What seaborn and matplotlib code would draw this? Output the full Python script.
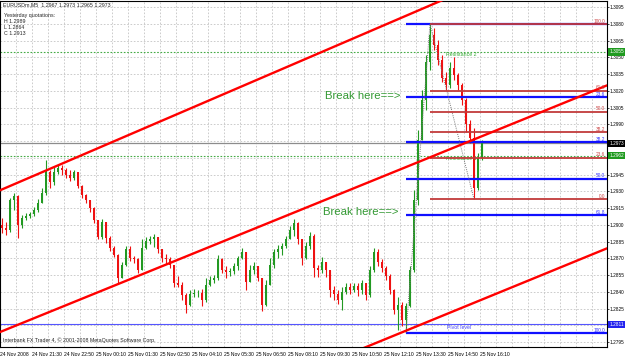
import matplotlib
matplotlib.use("Agg")
import matplotlib.pyplot as plt
import matplotlib.transforms as mtransforms
import numpy as np
import pandas as pd
import seaborn as sns

sns.set_style("white")
plt.rcParams['font.family'] = ['Liberation Sans', 'DejaVu Sans']

# ---------------- data ----------------
symbol_title = "EURUSDm,M5  1.2967 1.2973 1.2965 1.2973"
yesterday_lines = ["Yesterday quotations:", "H 1.2989", "L 1.2864", "C 1.2913"]
copyright_text = "Interbank FX Trader 4, \u00a9 2001-2008 MetaQuotes Software Corp."

open_p = [1.2900, 1.2897, 1.2895, 1.2922, 1.2926, 1.2900, 1.2906, 1.2908, 1.2910, 1.2913,
          1.2920, 1.2929, 1.2947, 1.2938, 1.2947, 1.2951, 1.2949, 1.2945, 1.2942, 1.2947,
          1.2935, 1.2927, 1.2922, 1.2915, 1.2904, 1.2889, 1.2903, 1.2888, 1.2879, 1.2873,
          1.2852, 1.2864, 1.2878, 1.2870, 1.2869, 1.2860, 1.2879, 1.2886, 1.2887, 1.2889,
          1.2878, 1.2870, 1.2869, 1.2864, 1.2848, 1.2846, 1.2837, 1.2828, 1.2838, 1.2839,
          1.2839, 1.2833, 1.2846, 1.2851, 1.2852, 1.2869, 1.2860, 1.2858, 1.2859, 1.2863,
          1.2870, 1.2876, 1.2849, 1.2860, 1.2863, 1.2852, 1.2828, 1.2846, 1.2864, 1.2876,
          1.2878, 1.2881, 1.2887, 1.2895, 1.2902, 1.2887, 1.2870, 1.2881, 1.2890, 1.2861,
          1.2860, 1.2867, 1.2860, 1.2842, 1.2838, 1.2833, 1.2840, 1.2844, 1.2842, 1.2845,
          1.2842, 1.2848, 1.2837, 1.2860, 1.2876, 1.2867, 1.2861, 1.2854, 1.2842, 1.2824,
          1.2828, 1.2815, 1.2827, 1.2860, 1.2922, 1.2976, 1.3012, 1.3046, 1.3070, 1.3061,
          1.3048, 1.3032, 1.3025, 1.3041, 1.3034, 1.3025, 1.3012, 1.2990, 1.2978, 1.2933,
          1.2960]
high_p = [1.2906, 1.2903, 1.2924, 1.2929, 1.2927, 1.2909, 1.2911, 1.2912, 1.2916, 1.2923,
          1.2933, 1.2958, 1.2949, 1.2952, 1.2955, 1.2954, 1.2951, 1.2949, 1.2949, 1.2947,
          1.2936, 1.2928, 1.2922, 1.2916, 1.2904, 1.2905, 1.2903, 1.2890, 1.2881, 1.2874,
          1.2867, 1.2881, 1.2881, 1.2872, 1.2870, 1.2887, 1.2889, 1.2890, 1.2892, 1.2889,
          1.2878, 1.2874, 1.2871, 1.2864, 1.2854, 1.2849, 1.2839, 1.2842, 1.2843, 1.2842,
          1.2843, 1.2852, 1.2854, 1.2855, 1.2873, 1.2870, 1.2863, 1.2861, 1.2866, 1.2872,
          1.2879, 1.2876, 1.2864, 1.2867, 1.2863, 1.2851, 1.2851, 1.2870, 1.2878, 1.2882,
          1.2884, 1.2890, 1.2899, 1.2905, 1.2903, 1.2887, 1.2885, 1.2894, 1.2892, 1.2864,
          1.2871, 1.2867, 1.2860, 1.2845, 1.2842, 1.2844, 1.2848, 1.2848, 1.2848, 1.2848,
          1.2851, 1.2848, 1.2863, 1.2879, 1.2878, 1.2869, 1.2863, 1.2856, 1.2843, 1.2835,
          1.2831, 1.2830, 1.2863, 1.2931, 1.2985, 1.3021, 1.3052, 1.3080, 1.3076, 1.3066,
          1.3052, 1.3037, 1.3046, 1.3050, 1.3036, 1.3027, 1.3014, 1.2994, 1.2987, 1.2964,
          1.2976]
low_p = [1.2893, 1.2891, 1.2894, 1.2913, 1.2888, 1.2897, 1.2904, 1.2906, 1.2908, 1.2912,
         1.2920, 1.2927, 1.2933, 1.2936, 1.2946, 1.2945, 1.2942, 1.2939, 1.2940, 1.2933,
         1.2924, 1.2920, 1.2912, 1.2902, 1.2887, 1.2887, 1.2884, 1.2877, 1.2871, 1.2848,
         1.2852, 1.2863, 1.2868, 1.2866, 1.2857, 1.2860, 1.2878, 1.2883, 1.2880, 1.2875,
         1.2867, 1.2865, 1.2861, 1.2844, 1.2844, 1.2833, 1.2821, 1.2827, 1.2835, 1.2835,
         1.2827, 1.2831, 1.2845, 1.2848, 1.2851, 1.2857, 1.2852, 1.2854, 1.2856, 1.2860,
         1.2869, 1.2842, 1.2849, 1.2856, 1.2850, 1.2823, 1.2827, 1.2846, 1.2861, 1.2870,
         1.2873, 1.2879, 1.2887, 1.2890, 1.2883, 1.2864, 1.2869, 1.2878, 1.2853, 1.2853,
         1.2857, 1.2853, 1.2835, 1.2833, 1.2829, 1.2824, 1.2838, 1.2838, 1.2840, 1.2836,
         1.2838, 1.2833, 1.2835, 1.2858, 1.2863, 1.2858, 1.2851, 1.2838, 1.2820, 1.2806,
         1.2809, 1.2803, 1.2826, 1.2858, 1.2918, 1.2976, 1.3003, 1.3039, 1.3057, 1.3043,
         1.3028, 1.3021, 1.3023, 1.3030, 1.3021, 1.3007, 1.2983, 1.2973, 1.2923, 1.2931,
         1.2958]
close_p = [1.2897, 1.2895, 1.2922, 1.2926, 1.2900, 1.2906, 1.2908, 1.2910, 1.2913, 1.2920,
           1.2929, 1.2947, 1.2938, 1.2947, 1.2951, 1.2949, 1.2945, 1.2942, 1.2947, 1.2935,
           1.2927, 1.2922, 1.2915, 1.2904, 1.2889, 1.2903, 1.2888, 1.2879, 1.2873, 1.2852,
           1.2864, 1.2878, 1.2870, 1.2869, 1.2860, 1.2879, 1.2886, 1.2887, 1.2889, 1.2878,
           1.2870, 1.2869, 1.2864, 1.2848, 1.2846, 1.2837, 1.2828, 1.2838, 1.2839, 1.2839,
           1.2833, 1.2846, 1.2851, 1.2852, 1.2869, 1.2860, 1.2858, 1.2859, 1.2863, 1.2870,
           1.2876, 1.2849, 1.2860, 1.2863, 1.2852, 1.2828, 1.2846, 1.2864, 1.2876, 1.2878,
           1.2881, 1.2887, 1.2895, 1.2902, 1.2887, 1.2870, 1.2881, 1.2890, 1.2861, 1.2860,
           1.2867, 1.2860, 1.2842, 1.2838, 1.2833, 1.2840, 1.2844, 1.2842, 1.2845, 1.2842,
           1.2848, 1.2837, 1.2860, 1.2876, 1.2867, 1.2861, 1.2854, 1.2842, 1.2824, 1.2828,
           1.2815, 1.2827, 1.2860, 1.2922, 1.2976, 1.3012, 1.3046, 1.3070, 1.3061, 1.3048,
           1.3032, 1.3025, 1.3041, 1.3034, 1.3025, 1.3012, 1.2990, 1.2978, 1.2933, 1.2960,
           1.2973]

time_labels = ["24 Nov 2008", "24 Nov 21:30", "24 Nov 22:50", "25 Nov 00:10",
               "25 Nov 01:30", "25 Nov 02:50", "25 Nov 04:10", "25 Nov 05:30",
               "25 Nov 06:50", "25 Nov 08:10", "25 Nov 09:30", "25 Nov 10:50",
               "25 Nov 12:10", "25 Nov 13:30", "25 Nov 14:50", "25 Nov 16:10"]
price_ticks = [1.2795, 1.2810, 1.2825, 1.2840, 1.2855, 1.2870, 1.2885, 1.2900,
               1.2915, 1.2930, 1.2945, 1.2960, 1.2975, 1.2990, 1.3005, 1.3020,
               1.3035, 1.3050, 1.3065, 1.3080, 1.3095]

bid_price = 1.2973
resistance_2 = 1.3055
resistance_1 = 1.2962
pivot_level = 1.2811

fib_levels = [0.0, 23.6, 38.2, 50.0, 61.8, 100.0]
fib_blue = {"start": 101, "high": 1.3080, "low": 1.2803}    # retracement from high
fib_red = {"start": 107, "end": 118, "high": 1.3080, "low": 1.2923}

# trend channel anchor points (bar index, price)
channel_x = [-0.5, 110.5, -0.5, 151.25, 84.5, 151.25]
channel_p = [1.2931, 1.3102, 1.2804, 1.3025, 1.2781, 1.2879]
channel_id = ["upper", "upper", "middle", "middle", "lower", "lower"]

# ---------------- figure ----------------
W, H = 625, 356
fig = plt.figure(figsize=(W / 100, H / 100), dpi=100)
ax = fig.add_axes([0.0, (H - 347) / H, 607 / W, 346 / H])
ax.set_facecolor("white")

XMIN, XMAX = -0.5, 151.25
YMIN, YMAX = 1.27906, 1.31006
ax.set_xlim(XMIN, XMAX)
ax.set_ylim(YMIN, YMAX)

BULL = "#229922"
BEAR = "#ee1111"

o = np.array(open_p); c = np.array(close_p)
h = np.array(high_p); l = np.array(low_p)
x = np.arange(len(c))
up = c >= o
cols = np.where(up, BULL, BEAR)
ax.vlines(x, np.minimum(l, np.minimum(o, c)), np.maximum(h, np.maximum(o, c)),
          colors=cols, lw=0.8, zorder=3)
ax.bar(x, np.maximum(np.abs(c - o), 0.00004), bottom=np.minimum(o, c),
       width=0.6, color=cols, linewidth=0, zorder=3)

box_prices = [resistance_2, bid_price, resistance_1, pivot_level]

# grid / ticks
ax.set_xticks([8 * k - 0.5 for k in range(len(time_labels))])
ax.set_xticks([4 * k - 0.5 for k in range(39)], minor=True)
ax.set_xticklabels(time_labels)
for t in ax.get_xticklabels():
    t.set_ha("left")
ax.set_yticks(price_ticks)
ax.set_yticklabels(["" if min(abs(p - b) for b in box_prices) < 0.00035 else f"{p:.4f}"
                    for p in price_ticks])
ax.yaxis.tick_right()
gridkw = dict(color="#c4c4c4", ls=(0, (2, 2)), lw=0.6)
ax.grid(True, which="both", axis="x", **gridkw)
ax.grid(True, which="major", axis="y", **gridkw)
ax.set_axisbelow(True)
ax.tick_params(axis="x", which="major", labelsize=3.6, pad=1.2, length=2.5, width=0.5, colors="black")
ax.tick_params(axis="x", which="minor", length=0)
ax.tick_params(axis="y", labelsize=3.4, pad=0.5, length=1.5, width=0.5, colors="black")
for s in ax.spines.values():
    s.set_color("black"); s.set_linewidth(0.8)

trans_r = mtransforms.blended_transform_factory(ax.transAxes, ax.transData)

# horizontal level lines
ax.axhline(bid_price, color="#8c8c8c", lw=0.9, zorder=2)
ax.axhline(resistance_2, color="#44aa44", lw=0.8, ls=(0, (1.5, 1.5)), zorder=2)
ax.axhline(resistance_1, color="#44aa44", lw=0.8, ls=(0, (1.5, 1.5)), zorder=2)
ax.axhline(pivot_level, color="#5555ff", lw=0.8, zorder=2)
ax.text(111, resistance_2 - 0.00005, "Resistance 2", color="#33aa33", fontsize=3.8, va="top", zorder=2)
ax.text(111, resistance_1 - 0.00005, "Resistance 1", color="#33aa33", fontsize=3.8, va="top", zorder=2)
ax.text(111.25, pivot_level - 0.00005, "Pivot level", color="#4444ff", fontsize=3.8, va="top", zorder=2)

# Fibonacci (blue) - levels measured down from the high
b_rng = fib_blue["high"] - fib_blue["low"]
for lv in fib_levels:
    p = fib_blue["high"] - lv / 100 * b_rng
    ax.hlines(p, fib_blue["start"], XMAX, color="#1010ff", lw=1.6, zorder=4)
    if lv > 0:
        ax.text(150.8, p + 0.00004, f"{lv:.1f}", color="#3333ff", fontsize=3.4,
                ha="right", va="bottom", zorder=6)
ax.plot([fib_blue["start"], fib_red["start"]], [fib_blue["low"], fib_blue["high"]],
        ls=(0, (1, 1.2)), color="#777777", lw=0.7, zorder=4)

# Fibonacci (red) - levels measured up from the low
r_rng = fib_red["high"] - fib_red["low"]
for lv in fib_levels:
    p = fib_red["low"] + lv / 100 * r_rng
    ax.hlines(p, fib_red["start"], XMAX, color="#c23a3a", lw=1.3, zorder=4.5)
    ax.text(150.8, p + 0.00004, f"{lv:.1f}", color="#cc4444", fontsize=3.4,
            ha="right", va="bottom", zorder=6)
ax.plot([fib_red["start"], fib_red["end"]], [fib_red["high"], fib_red["low"]],
        ls=(0, (1, 1.2)), color="#777777", lw=0.7, zorder=4)

# trend channel (seaborn)
chan = pd.DataFrame({"x": channel_x, "price": channel_p, "line": channel_id})
sns.lineplot(data=chan, x="x", y="price", units="line", estimator=None,
             color="#ff0000", lw=1.7, ax=ax, zorder=5, legend=False)
ax.set_xlim(XMIN, XMAX)
ax.set_ylim(YMIN, YMAX)
ax.set_xlabel(""); ax.set_ylabel("")

# annotations
ax.text(99.5, 1.30155, "Break here==>", color="#339933", fontsize=8.2, ha="right", va="center", zorder=6)
ax.text(99, 1.29116, "Break here==>", color="#339933", fontsize=8.2, ha="right", va="center", zorder=6)

# right-side price boxes
def price_box(p, fc):
    ax.text(1.004, p, f"{p:.4f}", transform=trans_r, fontsize=3.4, color="white",
            va="center", ha="left", clip_on=False, zorder=10,
            bbox=dict(boxstyle="square,pad=0.25", fc=fc, ec="none"))

price_box(resistance_2, "#1f9a1f")
price_box(bid_price, "#000000")
price_box(resistance_1, "#1f9a1f")
price_box(pivot_level, "#2222ee")

# header texts
fig.text(3 / W, 1 - 5 / H, symbol_title, fontsize=3.8, va="center", ha="left")
for k, line in enumerate(yesterday_lines):
    fig.text(4 / W, 1 - (15.5 + 6 * k) / H, line, fontsize=3.8, va="center", ha="left")
fig.text(3 / W, 1 - 340 / H, copyright_text, fontsize=3.8, va="center", ha="left")

fig.savefig("out.png", dpi=100, facecolor="white")
